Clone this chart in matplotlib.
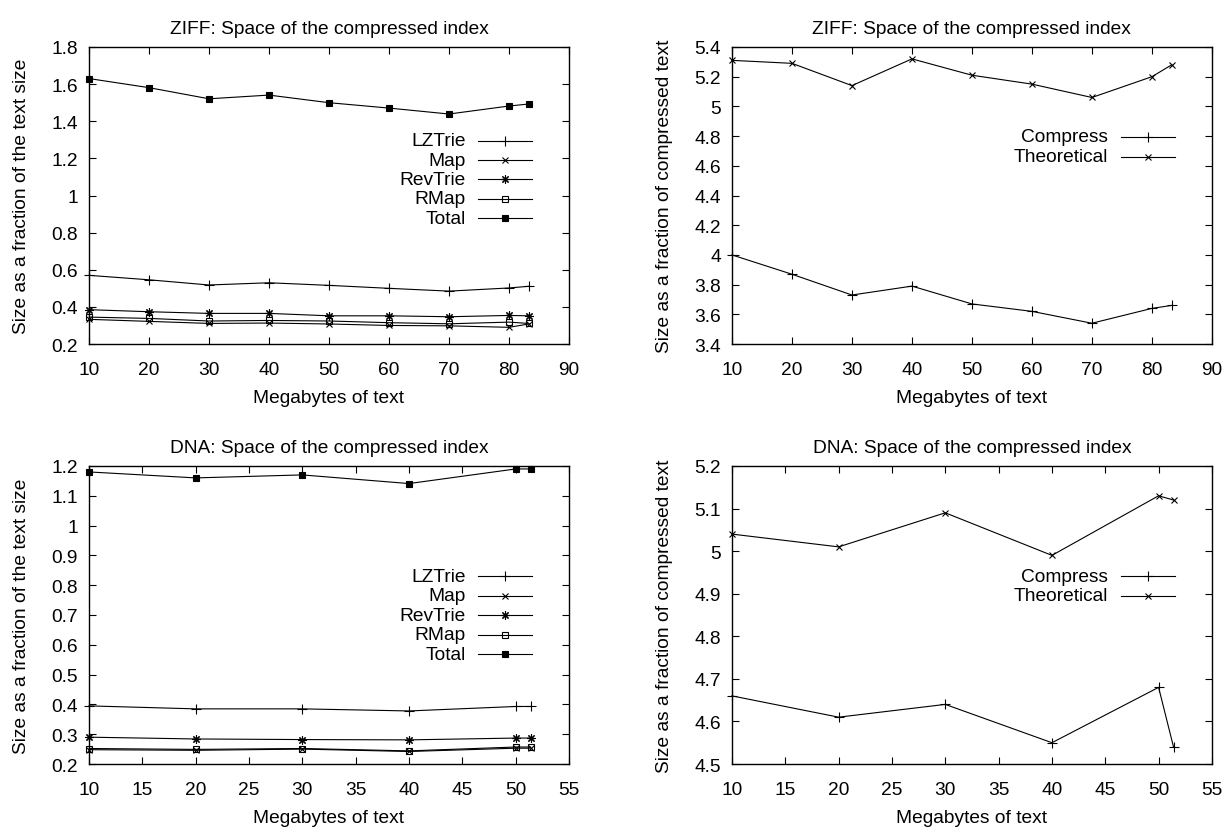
import matplotlib
matplotlib.use("Agg")
import matplotlib.pyplot as plt

# --------------------------
# DATA
# --------------------------
ziff_mb = [10, 20, 30, 40, 50, 60, 70, 80, 83.3]
ziff_lztrie = [0.57, 0.546, 0.518, 0.530, 0.516, 0.500, 0.485, 0.502, 0.511]
ziff_map = [0.333, 0.322, 0.311, 0.313, 0.308, 0.300, 0.298, 0.290, 0.308]
ziff_revtrie = [0.385, 0.374, 0.365, 0.365, 0.352, 0.352, 0.347, 0.354, 0.352]
ziff_rmap = [0.345, 0.338, 0.324, 0.327, 0.324, 0.315, 0.309, 0.318, 0.311]
ziff_total = [1.63, 1.581, 1.521, 1.541, 1.50, 1.471, 1.439, 1.482, 1.493]
ziff_compress = [4.00, 3.87, 3.73, 3.79, 3.67, 3.62, 3.54, 3.64, 3.66]
ziff_theoretical = [5.31, 5.29, 5.14, 5.32, 5.21, 5.15, 5.06, 5.20, 5.28]

dna_mb = [10, 20, 30, 40, 50, 51.4]
dna_lztrie = [0.395, 0.385, 0.385, 0.378, 0.393, 0.393]
dna_map = [0.248, 0.246, 0.250, 0.242, 0.253, 0.253]
dna_revtrie = [0.290, 0.284, 0.282, 0.281, 0.287, 0.287]
dna_rmap = [0.252, 0.249, 0.252, 0.244, 0.257, 0.257]
dna_total = [1.18, 1.16, 1.17, 1.141, 1.19, 1.19]
dna_compress = [4.66, 4.61, 4.64, 4.55, 4.68, 4.54]
dna_theoretical = [5.04, 5.01, 5.09, 4.99, 5.13, 5.12]

index_names = ["LZTrie", "Map", "RevTrie", "RMap", "Total"]
ratio_names = ["Compress", "Theoretical"]

# --------------------------
# STYLE
# --------------------------
plt.rcParams["font.family"] = ["Liberation Sans", "DejaVu Sans"]
plt.rcParams["font.size"] = 13.8

STAR = (8, 2, 0)
index_styles = [
    dict(marker="+", ms=6.5, mew=0.8),
    dict(marker="x", ms=4.8, mew=0.8),
    dict(marker=STAR, ms=6, mew=0.8),
    dict(marker="s", ms=4.2, mew=0.8, mfc="none"),
    dict(marker="s", ms=4.8, mew=0.8, mfc="black"),
]
ratio_styles = [
    dict(marker="+", ms=6.5, mew=0.8),
    dict(marker="x", ms=4.8, mew=0.8),
]


def fmt(v):
    return ("%.2f" % v).rstrip("0").rstrip(".")


def setup(ax, title, ylabel, xlim, xticks, ylim, yticks):
    ax.set_xlim(*xlim)
    ax.set_ylim(*ylim)
    ax.set_xticks(xticks)
    ax.set_yticks(yticks)
    ax.set_yticklabels([fmt(v) for v in yticks])
    ax.tick_params(direction="in", top=True, right=True, length=5, width=0.8)
    ax.tick_params(axis="x", pad=12)
    ax.tick_params(axis="y", pad=8)
    for s in ax.spines.values():
        s.set_linewidth(1.0)
    ax.set_title(title, fontsize=13.8, pad=10)
    ax.set_xlabel("Megabytes of text", labelpad=8)
    ax.set_ylabel(ylabel, labelpad=15)


def draw_key(ax, names, styles, x_text, y_top, dy, x0, x1):
    # gnuplot-like key: right-aligned text, sample line on the right
    for i, (name, st) in enumerate(zip(names, styles)):
        y = y_top - i * dy
        ax.text(x_text, y, name, transform=ax.transAxes, ha="right", va="center")
        ax.plot([x0, x1], [y, y], color="black", lw=0.8, transform=ax.transAxes,
                clip_on=False)
        ax.plot([(x0 + x1) / 2], [y], color="black", lw=0, transform=ax.transAxes,
                clip_on=False, mec="black", **st)


fig = plt.figure(figsize=(12.31, 8.29), dpi=100)
ax1 = fig.add_axes([0.0723, 0.5838, 0.3899, 0.3583])
ax2 = fig.add_axes([0.5946, 0.5838, 0.3899, 0.3583])
ax3 = fig.add_axes([0.0723, 0.0772, 0.3899, 0.3595])
ax4 = fig.add_axes([0.5946, 0.0772, 0.3899, 0.3595])

# ZIFF index
for ys, st in zip([ziff_lztrie, ziff_map, ziff_revtrie, ziff_rmap, ziff_total], index_styles):
    ax1.plot(ziff_mb, ys, color="black", lw=0.8, mec="black", clip_on=False, **st)
setup(ax1, "ZIFF: Space of the compressed index", "Size as a fraction of the text size",
      (10, 90), range(10, 91, 10), (0.2, 1.8), [0.2 + 0.2 * i for i in range(9)])
draw_key(ax1, index_names, index_styles, 0.785, 0.685, 0.0655, 0.81, 0.9225)

# ZIFF ratio
for ys, st in zip([ziff_compress, ziff_theoretical], ratio_styles):
    ax2.plot(ziff_mb, ys, color="black", lw=0.8, mec="black", clip_on=False, **st)
setup(ax2, "ZIFF: Space of the compressed index", "Size as a fraction of compressed text",
      (10, 90), range(10, 91, 10), (3.4, 5.4), [3.4 + 0.2 * i for i in range(11)])
draw_key(ax2, ratio_names, ratio_styles, 0.783, 0.698, 0.067, 0.81, 0.9225)

# DNA index
for ys, st in zip([dna_lztrie, dna_map, dna_revtrie, dna_rmap, dna_total], index_styles):
    ax3.plot(dna_mb, ys, color="black", lw=0.8, mec="black", clip_on=False, **st)
setup(ax3, "DNA: Space of the compressed index", "Size as a fraction of the text size",
      (10, 55), range(10, 56, 5), (0.2, 1.2), [0.2 + 0.1 * i for i in range(11)])
draw_key(ax3, index_names, index_styles, 0.785, 0.63, 0.0655, 0.81, 0.9225)

# DNA ratio
for ys, st in zip([dna_compress, dna_theoretical], ratio_styles):
    ax4.plot(dna_mb, ys, color="black", lw=0.8, mec="black", clip_on=False, **st)
setup(ax4, "DNA: Space of the compressed index", "Size as a fraction of compressed text",
      (10, 55), range(10, 56, 5), (4.5, 5.2), [4.5 + 0.1 * i for i in range(8)])
draw_key(ax4, ratio_names, ratio_styles, 0.783, 0.63, 0.066, 0.81, 0.9225)

fig.savefig("out.png", dpi=100)
